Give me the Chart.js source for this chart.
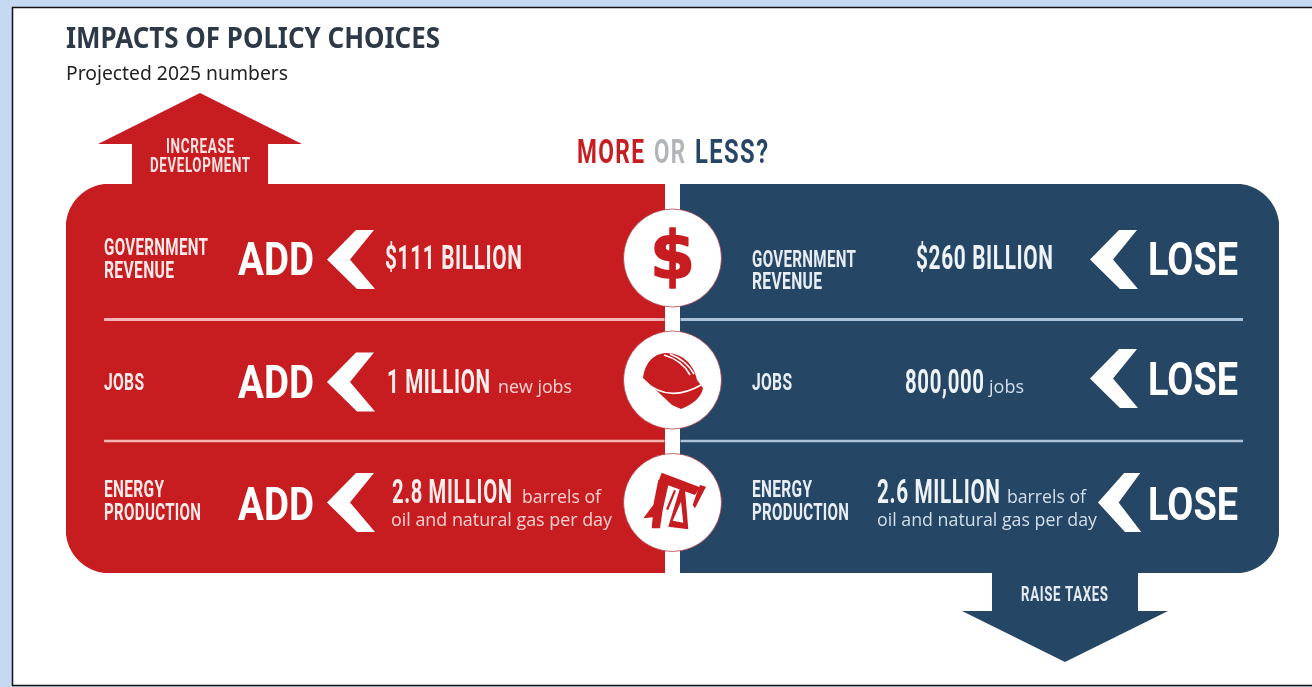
<!DOCTYPE html>
<html>
<head>
<meta charset="utf-8">
<title>Impacts of policy choices</title>
<script src="https://cdn.jsdelivr.net/npm/chart.js@4"></script>
<style>
  html, body { margin: 0; padding: 0; background: #fff; overflow: hidden; }
  canvas { display: block; filter: blur(0.45px); }
</style>
</head>
<body>
<canvas id="chart" width="1312" height="687"></canvas>
<script>
// Values
const title = 'IMPACTS OF POLICY CHOICES';
const subtitle = 'Projected 2025 numbers';
const categories = ['Government revenue', 'Jobs', 'Energy production'];
const categoryLines = [['GOVERNMENT', 'REVENUE'], ['JOBS'], ['ENERGY', 'PRODUCTION']];
// every row of the graphic is the same length, the panels do not scale with the amounts
const addSeries = [-1, -1, -1];
const loseSeries = [1, 1, 1];
const addAmounts = ['$111 BILLION', '1 MILLION', '2.8 MILLION'];
const addUnits = ['', 'new jobs', 'barrels of'];
const loseAmounts = ['$260 BILLION', '800,000', '2.6 MILLION'];
const loseUnits = ['', 'jobs', 'barrels of'];
const secondLine = 'oil and natural gas per day';

const RED = '#c71d20';
const BLUE = '#264666';
const CONDENSED = 'Roboto';
const HUMANIST = '"Open Sans"';

// draw text squeezed to a measured width, x is the left edge and y the baseline
function text(ctx, str, x, y, width, font, color, tracking) {
  ctx.save();
  ctx.font = font;
  ctx.fillStyle = color;
  ctx.textBaseline = 'alphabetic';
  ctx.letterSpacing = (tracking || 0) + 'px';
  const w = ctx.measureText(str).width - (tracking || 0);
  ctx.translate(x, y);
  ctx.scale(width / w, 1);
  ctx.fillText(str, 0, 0);
  ctx.restore();
}

function poly(ctx, pts, color) {
  ctx.beginPath();
  pts.forEach((p, i) => i ? ctx.lineTo(p[0], p[1]) : ctx.moveTo(p[0], p[1]));
  ctx.closePath();
  ctx.fillStyle = color;
  ctx.fill();
}

function chevron(ctx, tip, cy, scaleX) {
  const s = scaleX || 1;
  poly(ctx, [[tip + 29 * s, cy - 29.5], [tip + 47 * s, cy - 29.5], [tip + 23 * s, cy],
    [tip + 48 * s, cy + 29.5], [tip + 30 * s, cy + 29.5], [tip, cy]], '#fff');
}

function helmet(ctx) {
  ctx.beginPath();
  ctx.moveTo(643, 378);
  ctx.bezierCurveTo(645, 364, 652, 354, 666, 353);
  ctx.bezierCurveTo(682, 353, 694, 364, 697, 380);
  ctx.lineTo(703, 388);
  ctx.bezierCurveTo(702, 396, 694, 404, 681, 409);
  ctx.lineTo(672, 405);
  ctx.closePath();
  ctx.fillStyle = RED;
  ctx.fill();
  ctx.strokeStyle = '#fff';
  ctx.lineWidth = 1.6;
  ctx.beginPath();
  ctx.moveTo(643, 380);
  ctx.quadraticCurveTo(668, 404, 701, 385);
  ctx.stroke();
  ctx.beginPath();
  ctx.moveTo(664, 355);
  ctx.quadraticCurveTo(682, 360, 690, 375);
  ctx.moveTo(670, 354);
  ctx.quadraticCurveTo(686, 360, 694, 374);
  ctx.stroke();
}

function pumpjack(ctx) {
  // walking beam and horse head
  poly(ctx, [[661.7, 472.7], [700, 487.3], [695, 495], [658.3, 481.7]], RED);
  poly(ctx, [[700, 485], [706, 486.7], [695, 508.3], [692.7, 505], [696.7, 493.3]], RED);
  // counterweight leg
  poly(ctx, [[658.3, 480], [668.3, 485], [662.7, 510], [660, 528.3], [651.7, 528.3],
    [652.7, 517.3], [643.3, 518.3], [653.3, 505]], RED);
  poly(ctx, [[674, 490], [676, 490.7], [668.3, 510], [666, 509.3]], RED);
  // samson post with its opening
  ctx.beginPath();
  [[680, 488.3], [685, 490], [688.3, 529.3], [668.3, 526.7]].forEach((p, i) => i ? ctx.lineTo(p[0], p[1]) : ctx.moveTo(p[0], p[1]));
  ctx.closePath();
  [[681, 501.7], [683.3, 522.7], [672.7, 520.7]].forEach((p, i) => i ? ctx.lineTo(p[0], p[1]) : ctx.moveTo(p[0], p[1]));
  ctx.closePath();
  ctx.fillStyle = RED;
  ctx.fill('evenodd');
}

// Page frame behind everything
const backdrop = {
  id: 'backdrop',
  beforeDraw(chart) {
    const { ctx, width, height } = chart;
    ctx.save();
    ctx.fillStyle = '#c6d9f3';
    ctx.fillRect(0, 0, width, height);
    ctx.fillStyle = '#fff';
    ctx.fillRect(13, 8, width - 13, height - 10);
    ctx.strokeStyle = '#111';
    ctx.lineWidth = 1.5;
    ctx.beginPath();
    ctx.moveTo(width, 7.5);
    ctx.lineTo(12.5, 7.5);
    ctx.lineTo(12.5, 685.5);
    ctx.lineTo(width, 685.5);
    ctx.stroke();
    ctx.restore();
  }
};

// Everything the graphic writes on top of the bars
const annotations = {
  id: 'annotations',
  afterDraw(chart) {
    const { ctx, chartArea } = chart;
    const cx = chart.scales.x.getPixelForValue(0);
    const top = chartArea.top, bottom = chartArea.bottom;
    ctx.save();

    text(ctx, title, 66, 48, 374, 'bold 28px "Noto Sans"', '#2d3947');
    text(ctx, subtitle, 66, 80, 222, '20px "Noto Sans"', '#222');

    // more or less heading
    text(ctx, 'MORE', 577, 163, 67, `bold 34px ${CONDENSED}`, RED, 2);
    text(ctx, 'OR', 654, 163, 31, `bold 34px ${CONDENSED}`, '#b2b5b8', 2);
    text(ctx, 'LESS?', 695, 163, 73, `bold 34px ${CONDENSED}`, BLUE, 2);

    // direction arrows sitting on the panels
    poly(ctx, [[200, 93], [302, 144], [268, 144], [268, top + 1], [132, top + 1], [132, 144], [98, 144]], RED);
    text(ctx, 'INCREASE', 166, 153, 68, `bold 21px ${CONDENSED}`, '#fbe3e3', 1);
    text(ctx, 'DEVELOPMENT', 150, 172, 100, `bold 21px ${CONDENSED}`, '#fbe3e3', 1);
    poly(ctx, [[992, bottom - 1], [1138, bottom - 1], [1138, 611], [1168, 611], [1065, 662], [962, 611], [992, 611]], BLUE);
    text(ctx, 'RAISE TAXES', 1021, 601, 87, `bold 21px ${CONDENSED}`, '#e4ebf2', 1);

    // row separators
    [[319.5, 3], [441, 2.5]].forEach(([y, lw]) => {
      ctx.lineWidth = lw;
      ctx.strokeStyle = '#f5b3b3';
      ctx.beginPath();
      ctx.moveTo(104, y);
      ctx.lineTo(cx - 8, y);
      ctx.stroke();
      ctx.strokeStyle = '#aac2da';
      ctx.beginPath();
      ctx.moveTo(cx + 8, y);
      ctx.lineTo(1243, y);
      ctx.stroke();
    });

    // left labels of both panels
    const labelWidths = { GOVERNMENT: 104, REVENUE: 70, JOBS: 40, ENERGY: 60, PRODUCTION: 97 };
    const addLabelBase = [[255, 278], [390], [497, 520]];
    const loseLabelBase = [[267, 289], [390], [497, 520]];
    categoryLines.forEach((lines, i) => {
      lines.forEach((line, j) => {
        const w = labelWidths[line];
        text(ctx, line, 104, addLabelBase[i][j], w, `bold 24px ${CONDENSED}`, '#fdeaea', 0.5);
        text(ctx, line, 752, loseLabelBase[i][j], w, `bold 24px ${CONDENSED}`, '#e8eef4', 0.5);
      });
    });

    // add side
    const addBase = [275, 398, 520];
    const chevronAdd = [259.5, 382, 502.5];
    const addAmountX = [385, 387, 392];
    const addAmountW = [137, 103, 120];
    const amountBase = [269, 393, 503];
    const addUnitX = [0, 498, 522];
    const addUnitW = [0, 74, 79];
    addBase.forEach((y, i) => {
      text(ctx, 'ADD', 238, y, 76, `bold 46px ${CONDENSED}`, '#fff');
      chevron(ctx, 327, chevronAdd[i]);
      text(ctx, addAmounts[i], addAmountX[i], amountBase[i], addAmountW[i], `bold 33px ${CONDENSED}`, '#fdeeee', 1);
      if (addUnits[i]) {
        text(ctx, addUnits[i], addUnitX[i], amountBase[i], addUnitW[i], `18px ${HUMANIST}`, '#f9d3d3');
      }
    });
    text(ctx, secondLine, 391, 526, 221, `18px ${HUMANIST}`, '#f9d3d3');

    // lose side
    const loseBase = [275, 395, 520];
    const chevronLose = [259.5, 378.5, 502.5];
    const chevronLoseX = [1090, 1090, 1098];
    const loseAmountX = [916, 905, 877];
    const loseAmountW = [137, 79, 123];
    const loseUnitX = [0, 989, 1007];
    const loseUnitW = [0, 35, 79];
    loseBase.forEach((y, i) => {
      chevron(ctx, chevronLoseX[i], chevronLose[i], i === 2 ? 0.9 : 1);
      text(ctx, 'LOSE', 1148, y, 90, `bold 46px ${CONDENSED}`, '#fff');
      text(ctx, loseAmounts[i], loseAmountX[i], amountBase[i], loseAmountW[i], `bold 33px ${CONDENSED}`, '#eef3f8', 1);
      if (loseUnits[i]) {
        text(ctx, loseUnits[i], loseUnitX[i], amountBase[i], loseUnitW[i], `18px ${HUMANIST}`, '#d3dfea');
      }
    });
    text(ctx, secondLine, 877, 526, 220, `18px ${HUMANIST}`, '#d3dfea');

    // round badges on the centre line
    [258, 380, 502.5].forEach(cy => {
      ctx.beginPath();
      ctx.arc(cx, cy, 49, 0, Math.PI * 2);
      ctx.fillStyle = '#fff';
      ctx.fill();
      ctx.strokeStyle = 'rgba(170,40,50,0.7)';
      ctx.lineWidth = 1;
      ctx.stroke();
    });
    text(ctx, '$', cx - 22.5, 278, 45, 'bold 65px "DejaVu Sans"', RED);
    ctx.save();
    ctx.font = 'bold 65px "DejaVu Sans"';
    ctx.strokeStyle = RED;
    ctx.lineWidth = 1.5;
    ctx.lineJoin = 'round';
    const dollarW = ctx.measureText('$').width;
    ctx.translate(cx - 22.5, 278);
    ctx.scale(45 / dollarW, 1);
    ctx.strokeText('$', 0, 0);
    ctx.restore();
    helmet(ctx);
    pumpjack(ctx);

    ctx.restore();
  }
};

// outer corners only, the rows join up into two big panels
function corners(side) {
  return function (context) {
    const i = context.dataIndex;
    const r = 44;
    const last = categories.length - 1;
    if (side === 'left') {
      return { topLeft: i === 0 ? r : 0, bottomLeft: i === last ? r : 0, topRight: 0, bottomRight: 0 };
    }
    return { topRight: i === 0 ? r : 0, bottomRight: i === last ? r : 0, topLeft: 0, bottomLeft: 0 };
  };
}

new Chart(document.getElementById('chart').getContext('2d'), {
  type: 'bar',
  data: {
    labels: categories,
    datasets: [
      { label: 'More', data: addSeries, backgroundColor: RED, borderRadius: corners('left'), borderSkipped: false },
      { label: 'Less', data: loseSeries, backgroundColor: BLUE, borderRadius: corners('right'), borderSkipped: false }
    ]
  },
  options: {
    indexAxis: 'y',
    responsive: false,
    animation: false,
    events: [],
    layout: { padding: { left: 66, right: 33, top: 184, bottom: 114 } },
    datasets: { bar: { barPercentage: 1, categoryPercentage: 1 } },
    plugins: { legend: { display: false }, tooltip: { enabled: false } },
    scales: {
      x: {
        stacked: true,
        min: -1,
        max: 1,
        ticks: { display: false, stepSize: 1 },
        border: { display: false },
        // the white channel between the panels is the zero line
        grid: {
          z: 1,
          drawTicks: false,
          color: c => (c.tick && c.tick.value === 0 ? '#fff' : 'rgba(0,0,0,0)'),
          lineWidth: c => (c.tick && c.tick.value === 0 ? 15 : 0)
        }
      },
      y: {
        stacked: true,
        ticks: { display: false },
        border: { display: false },
        grid: { display: false, drawTicks: false }
      }
    }
  },
  plugins: [backdrop, annotations]
});
</script>
</body>
</html>
